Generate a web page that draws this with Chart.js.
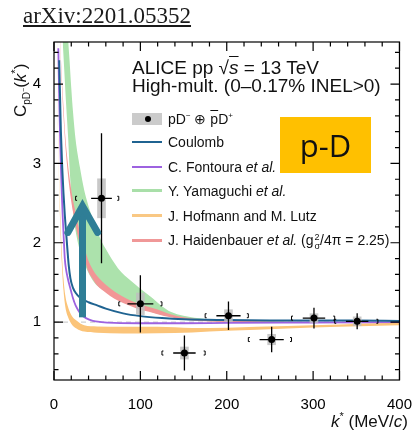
<!DOCTYPE html>
<html>
<head>
<meta charset="utf-8">
<script src="https://cdn.jsdelivr.net/npm/chart.js@4.4.1/dist/chart.umd.min.js"></script>
<style>
  body { margin: 0; width: 420px; height: 431px; position: relative; overflow: hidden; background: #fff; font-family: "Liberation Sans", Arial, sans-serif; }
  canvas { position: absolute; left: 0; top: 0; }
  .txt { position: absolute; white-space: nowrap; line-height: 1; color: #111; }
  .leg { position: absolute; left: 168px; font-size: 14px; }
  .sw { position: absolute; left: 132px; width: 30px; height: 2.5px; }
  .ss { display: inline-flex; flex-direction: column; font-size: 9px; line-height: 0.95; vertical-align: 5px; margin-left: 1px; }
</style>
</head>
<body>
<canvas id="chart" width="420" height="431"></canvas>

<div class="txt" style="left:23px; top:4px; font-family:'Liberation Serif',serif; font-size:23px; text-decoration:underline; color:#1a1a1a;">arXiv:2201.05352</div>

<div class="txt" style="left:132px; top:58px; font-size:19px;">ALICE pp &#8730;<span style="text-decoration:overline"><i>s</i></span> = 13 TeV</div>
<div class="txt" style="left:132px; top:76px; font-size:19px;">High-mult. (0&#8211;0.17% INEL&gt;0)</div>

<div style="position:absolute; left:132px; top:113px; width:30px; height:12px; background:#cbcbcb;"></div>
<div style="position:absolute; left:144.5px; top:115.5px; width:6px; height:6px; border-radius:50%; background:#000;"></div>
<div class="txt leg" style="top:112px;">pD<sup style="font-size:8px">&#8722;</sup> &#8853; <span style="text-decoration:overline">p</span>D<sup style="font-size:8px">+</sup></div>

<div class="sw" style="top:140.5px; background:#1f6391;"></div>
<div class="txt leg" style="top:135px;">Coulomb</div>
<div class="sw" style="top:165.5px; background:#9d62e0;"></div>
<div class="txt leg" style="top:160px;">C. Fontoura <i>et al.</i></div>
<div class="sw" style="top:189px; background:#a9dfa9;"></div>
<div class="txt leg" style="top:184px;">Y. Yamaguchi <i>et al.</i></div>
<div class="sw" style="top:214px; background:#f9c884;"></div>
<div class="txt leg" style="top:208.5px;">J. Hofmann and M. Lutz</div>
<div class="sw" style="top:239px; background:#f09898;"></div>
<div class="txt leg" style="top:233px;">J. Haidenbauer <i>et al.</i> (g<span class="ss"><span>2</span><span>&#963;</span></span>/4&#960; = 2.25)</div>

<div style="position:absolute; left:280px; top:117px; width:91px; height:56px; background:#ffc000; display:flex; align-items:center; justify-content:center; font-family:'Open Sans',sans-serif; font-size:31px; color:#111;">p-D</div>

<div class="txt" style="left:10px; top:117px; font-size:17px; transform-origin:0 0; transform:rotate(-90deg);">C<sub style="font-size:10px">pD<sup style="font-size:7px">&#8722;</sup></sub>(<i>k</i><sup style="font-size:11px">*</sup>)</div>
<div class="txt" style="right:12px; top:411px; font-size:17px;"><i>k</i><sup style="font-size:11px">*</sup> (MeV/<i>c</i>)</div>

<script>
// measured points (k* in MeV/c)
const kPts = [55, 100, 151, 202, 252, 301, 351];
const cPts = [2.56, 1.23, 0.61, 1.08, 0.78, 1.05, 1.01];
const statErr = [0.82, 0.36, 0.22, 0.18, 0.16, 0.13, 0.10];
const sysErr = [0.25, 0.14, 0.08, 0.08, 0.07, 0.06, 0.06];
const kErr = [12, 15, 13, 14, 14, 13, 13];
const binLo = [25, 75, 125, 175, 225, 275, 325];
const binHi = [75, 125, 175, 225, 275, 325, 375];

// Coulomb
const kCoul = [6, 8, 9.5, 11, 12.5, 14, 15.5, 17, 19, 22, 25, 30, 40, 50, 60, 80, 100, 125, 150, 200, 250, 300, 350, 400];
const cCoul = [4.30, 3.40, 2.95, 2.62, 2.35, 2.13, 1.92, 1.72, 1.55, 1.43, 1.37, 1.31, 1.25, 1.21, 1.17, 1.11, 1.075, 1.05, 1.035, 1.025, 1.02, 1.02, 1.02, 1.015];

// Fontoura
const kFont = [5, 6, 7, 8, 9, 10, 11, 12.5, 14, 16, 18, 20, 22, 25, 28, 32, 37, 45, 55, 70, 100, 150, 200, 300, 400];
const cFont = [4.45, 3.85, 3.35, 2.95, 2.62, 2.35, 2.12, 1.80, 1.66, 1.55, 1.46, 1.38, 1.30, 1.21, 1.15, 1.09, 1.05, 1.015, 1.0, 0.99, 0.985, 0.985, 0.99, 0.995, 1.0];

// Yamaguchi band
const kYam = [10, 12, 14, 16.5, 18, 20, 22, 25, 30, 35, 40, 48, 55, 60, 74, 89, 100, 112, 125, 135, 150, 175, 200, 250, 300, 400];
const yamLo = [4.55, 4.15, 3.75, 3.3, 2.95, 2.62, 2.4, 2.15, 1.9, 1.74, 1.62, 1.48, 1.42, 1.38, 1.29, 1.22, 1.18, 1.13, 1.09, 1.07, 1.035, 1.015, 1.005, 1.0, 0.998, 0.995];
const yamHi = [6.5, 5.9, 5.2, 4.55, 4.3, 3.95, 3.65, 3.3, 2.95, 2.66, 2.46, 2.2, 2.02, 1.92, 1.68, 1.52, 1.42, 1.32, 1.2, 1.13, 1.08, 1.04, 1.02, 1.01, 1.0, 1.0];

// Haidenbauer band
const kHai = [7, 9, 11, 13, 15, 18, 21, 25, 29, 33, 37, 40, 45, 50, 60, 70, 80, 90, 100, 110, 120, 135, 150, 175, 200, 250, 300, 350, 400];
const haiLo = [4.52, 4.0, 3.59, 3.25, 2.99, 2.68, 2.45, 2.22, 2.02, 1.87, 1.73, 1.63, 1.54, 1.46, 1.37, 1.295, 1.24, 1.195, 1.155, 1.13, 1.10, 1.06, 1.03, 1.01, 1.0, 0.993, 0.99, 0.985, 0.985];
const haiHi = [4.58, 4.1, 3.71, 3.35, 3.11, 2.82, 2.60, 2.38, 2.18, 2.03, 1.87, 1.77, 1.66, 1.58, 1.47, 1.385, 1.32, 1.265, 1.225, 1.19, 1.16, 1.10, 1.06, 1.03, 1.02, 1.007, 1.0, 0.995, 0.995];

// Hofmann-Lutz band
const kHof = [3.5, 4.5, 5, 6, 7, 9, 11, 13, 16, 20, 26, 35, 50, 80, 120, 160, 200, 270, 330, 400];
const hofLo = [4.5, 3.45, 3.2, 2.7, 2.3, 1.75, 1.40, 1.2, 1.07, 0.98, 0.92, 0.88, 0.865, 0.855, 0.86, 0.87, 0.89, 0.92, 0.94, 0.96];
const hofHi = [4.6, 3.5, 3.3, 2.8, 2.45, 1.9, 1.55, 1.34, 1.2, 1.09, 1.02, 0.96, 0.945, 0.94, 0.94, 0.925, 0.93, 0.95, 0.97, 0.99];

// arrow (k*, from C, to C, arm ends)
const arrowK = 33, arrowFrom = 1.06, arrowTo = 2.5;
const armK = [16, 50.5], armC = 2.13;

const xLabels = [0, 100, 200, 300, 400];
const yLabels = [1, 2, 3, 4];

const pts = (ks, cs) => ks.map((k, i) => ({ x: k, y: cs[i] }));

function band(ks, lo, hi, color, ord) {
  return [
    { data: pts(ks, lo), borderWidth: 0, pointRadius: 0, fill: false, order: ord, cubicInterpolationMode: "monotone" },
    { data: pts(ks, hi), borderWidth: 0, pointRadius: 0, fill: "-1", backgroundColor: color, order: ord, cubicInterpolationMode: "monotone" }
  ];
}

const errorPlugin = {
  id: "errs",
  beforeDatasetsDraw(chart) {
    const { ctx, chartArea: a, scales: { y } } = chart;
    ctx.save();
    ctx.strokeStyle = "#d0d0d0";
    ctx.lineWidth = 1.2;
    ctx.setLineDash([5, 4]);
    ctx.beginPath();
    ctx.moveTo(a.left, y.getPixelForValue(1));
    ctx.lineTo(a.right, y.getPixelForValue(1));
    ctx.stroke();
    ctx.restore();
  },
  beforeDatasetDraw(chart, args) {
    if (args.index !== 0) return;
    const { ctx, scales: { x, y } } = chart;
    ctx.save();
    kPts.forEach((k, i) => {
      const px = x.getPixelForValue(k), py = y.getPixelForValue(cPts[i]);
      // systematic box
      ctx.fillStyle = "rgba(190,190,190,0.85)";
      const y1 = y.getPixelForValue(cPts[i] + sysErr[i]), y2 = y.getPixelForValue(cPts[i] - sysErr[i]);
      const x1 = x.getPixelForValue(k - 5), x2 = x.getPixelForValue(k + 5);
      ctx.fillRect(x1, y1, x2 - x1, y2 - y1);
      // stat errors
      ctx.strokeStyle = "#000";
      ctx.lineWidth = 1.3;
      ctx.beginPath();
      ctx.moveTo(px, y.getPixelForValue(cPts[i] + statErr[i]));
      ctx.lineTo(px, y.getPixelForValue(cPts[i] - statErr[i]));
      ctx.moveTo(x.getPixelForValue(k - kErr[i]), py);
      ctx.lineTo(x.getPixelForValue(k + kErr[i]), py);
      ctx.stroke();
      // bin brackets
      ctx.lineWidth = 1;
      const bl = x.getPixelForValue(binLo[i]), bh = x.getPixelForValue(binHi[i]);
      ctx.beginPath();
      ctx.moveTo(bl + 1.5, py - 2); ctx.lineTo(bl, py - 2); ctx.lineTo(bl, py + 2); ctx.lineTo(bl + 1.5, py + 2);
      ctx.moveTo(bh - 1.5, py - 2); ctx.lineTo(bh, py - 2); ctx.lineTo(bh, py + 2); ctx.lineTo(bh - 1.5, py + 2);
      ctx.stroke();
    });
    ctx.restore();
  },
  afterDatasetsDraw(chart) {
    const { ctx, scales: { x, y } } = chart;
    ctx.save();
    ctx.strokeStyle = "#2f7e96";
    ctx.lineWidth = 7;
    const ax = x.getPixelForValue(arrowK), tip = y.getPixelForValue(arrowTo);
    ctx.lineCap = "butt";
    ctx.beginPath();
    ctx.moveTo(ax, y.getPixelForValue(arrowFrom));
    ctx.lineTo(ax, tip + 4);
    ctx.stroke();
    ctx.lineCap = "round";
    ctx.lineJoin = "miter";
    ctx.beginPath();
    ctx.moveTo(x.getPixelForValue(armK[0]), y.getPixelForValue(armC));
    ctx.lineTo(ax, tip + 3);
    ctx.lineTo(x.getPixelForValue(armK[1]), y.getPixelForValue(armC));
    ctx.stroke();
    ctx.restore();
  },
  afterDraw(chart) {
    const { ctx, chartArea: a, scales: { x, y } } = chart;
    ctx.save();
    ctx.strokeStyle = "#000";
    ctx.lineWidth = 1.2;
    ctx.strokeRect(a.left, a.top, a.right - a.left, a.bottom - a.top);
    ctx.beginPath();
    for (let k = 0; k <= 400; k += 20) {
      const px = x.getPixelForValue(k), len = k % 100 === 0 ? 9 : 4.5;
      ctx.moveTo(px, a.bottom); ctx.lineTo(px, a.bottom - len);
      ctx.moveTo(px, a.top); ctx.lineTo(px, a.top + len);
    }
    for (let c = 4; c <= 45; c += 2) {
      const v = c / 10, py = y.getPixelForValue(v), len = c % 10 === 0 ? 9 : 4.5;
      ctx.moveTo(a.left, py); ctx.lineTo(a.left + len, py);
      ctx.moveTo(a.right, py); ctx.lineTo(a.right - len, py);
    }
    ctx.stroke();
    ctx.restore();
  }
};

new Chart(document.getElementById("chart"), {
  type: "line",
  data: {
    datasets: [
      { data: pts(kPts, cPts), showLine: false, pointRadius: 3.5, pointBackgroundColor: "#000", pointBorderWidth: 0, order: 0 },
      { data: pts(kCoul, cCoul), borderColor: "#1f6391", borderWidth: 2, pointRadius: 0, order: 1, cubicInterpolationMode: "monotone" },
      { data: pts(kFont, cFont), borderColor: "#9d62e0", borderWidth: 1.8, pointRadius: 0, order: 2, cubicInterpolationMode: "monotone" },
      ...band(kHof, hofLo, hofHi, "#fbc479", 3),
      ...band(kHai, haiLo, haiHi, "#f29696", 4),
      ...band(kYam, yamLo, yamHi, "#ace2ac", 5)
    ]
  },
  options: {
    responsive: false,
    animation: false,
    devicePixelRatio: 1,
    layout: { padding: { top: 42, right: 10, left: 0, bottom: 0 } },
    plugins: { legend: { display: false }, tooltip: { enabled: false } },
    scales: {
      x: {
        type: "linear", min: 0, max: 400,
        grid: { display: false }, border: { display: false },
        afterBuildTicks: s => { s.ticks = xLabels.map(v => ({ value: v })); },
        afterFit: s => { s.height = 51; },
        ticks: { padding: 8, color: "#000", font: { family: "Liberation Sans", size: 15 }, maxRotation: 0 }
      },
      y: {
        type: "linear", min: 0.27, max: 4.53,
        grid: { display: false }, border: { display: false },
        afterBuildTicks: s => { s.ticks = yLabels.map(v => ({ value: v })); },
        afterFit: s => { s.width = 54; },
        ticks: { padding: 5, color: "#000", font: { family: "Liberation Sans", size: 15 } }
      }
    }
  },
  plugins: [errorPlugin]
});
</script>
</body>
</html>
